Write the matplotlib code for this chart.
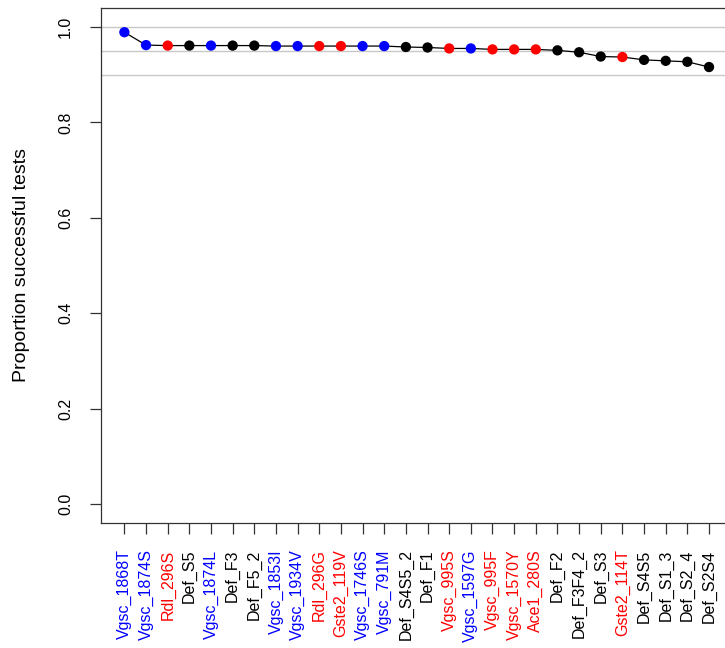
import matplotlib
matplotlib.use("Agg")
import matplotlib.pyplot as plt
import numpy as np

plt.rcParams['font.family'] = ['Liberation Sans', 'DejaVu Sans']

labels = ["Vgsc_1868T", "Vgsc_1874S", "Rdl_296S", "Def_S5", "Vgsc_1874L", "Def_F3",
          "Def_F5_2", "Vgsc_1853I", "Vgsc_1934V", "Rdl_296G", "Gste2_119V", "Vgsc_1746S",
          "Vgsc_791M", "Def_S4S5_2", "Def_F1", "Vgsc_995S", "Vgsc_1597G", "Vgsc_995F",
          "Vgsc_1570Y", "Ace1_280S", "Def_F2", "Def_F3F4_2", "Def_S3", "Gste2_114T",
          "Def_S4S5", "Def_S1_3", "Def_S2_4", "Def_S2S4"]
values = [0.989, 0.962, 0.961, 0.961, 0.961, 0.961, 0.961, 0.960, 0.960, 0.960,
          0.960, 0.960, 0.960, 0.958, 0.957, 0.955, 0.955, 0.953, 0.953, 0.953,
          0.951, 0.947, 0.938, 0.937, 0.931, 0.929, 0.927, 0.916]
groups = ["b", "b", "r", "k", "b", "k", "k", "b", "b", "r", "r", "b", "b", "k", "k",
          "r", "b", "r", "r", "r", "k", "k", "k", "r", "k", "k", "k", "k"]
ref_lines = [1.0, 0.95, 0.9]
yticks = [0.0, 0.2, 0.4, 0.6, 0.8, 1.0]
color_map = {"b": "#0000FF", "r": "#FF0000", "k": "#000000"}

W, H = 725, 648
fig = plt.figure(figsize=(W / 100, H / 100), dpi=100)
left, right, top, bottom = 101, 732.4, 7.9, 523
ax = fig.add_axes([left / W, 1 - bottom / H, (right - left) / W, (bottom - top) / H])

x = np.arange(1, len(values) + 1)
cols = [color_map[g] for g in groups]

for yl in ref_lines:
    ax.axhline(yl, color="#C8C8C8", lw=1.0, zorder=1)
ax.plot(x, values, color="#000000", lw=0.9, zorder=2)
ax.scatter(x, values, c=cols, s=55, zorder=3, edgecolors="none")

n = len(values)
ax.set_xlim(1 - 0.04 * (n - 1), n + 0.04 * (n - 1))
ax.set_ylim(-0.04, 1.04)

ax.tick_params(axis="y", length=8, width=0.9, pad=12, color="#333333")
ax.tick_params(axis="x", length=8, width=0.9, pad=11, color="#333333")

ax.set_yticks(yticks)
ax.set_yticklabels([f"{t:.1f}" for t in yticks], rotation=90, va="center", fontsize=11.5)
ax.set_xticks(x)
ax.set_xticklabels(labels, rotation=90, fontsize=11.5)
for t, c in zip(ax.get_xticklabels(), cols):
    t.set_color(c)

for s in ax.spines.values():
    s.set_color("#333333")
    s.set_linewidth(0.9)

ax.set_ylabel("Proportion successful tests", fontsize=14)
ax.yaxis.set_label_coords(-(101 - 30) / (right - left), 0.5)

fig.savefig("out.png", dpi=100)
